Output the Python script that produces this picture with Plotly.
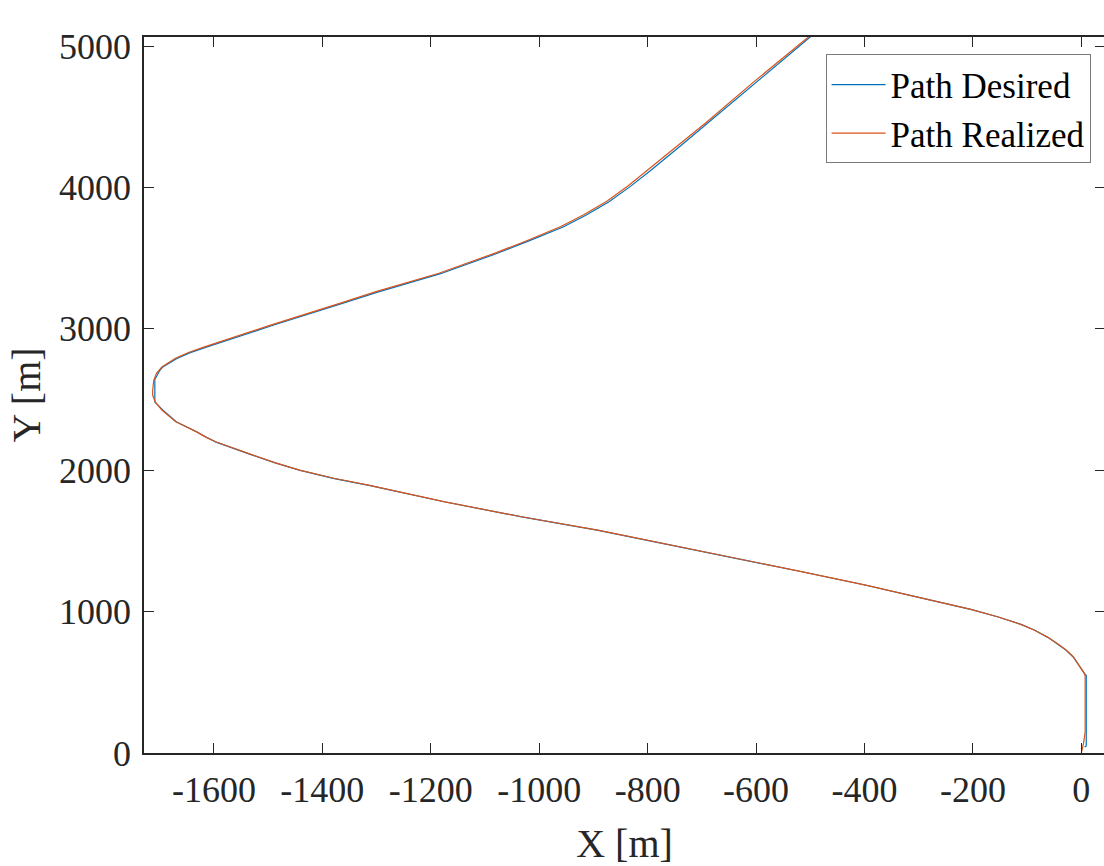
import plotly.graph_objects as go

# Desired path (blue)
desired_x = [6, 9, 9, 9, 6, 0, -15, -28, -43, -61, -86, -110, -153, -202, -276, -399, -522, -644,
             -767, -891, -1032, -1173, -1314, -1378, -1441, -1487, -1533, -1553, -1596, -1613, -1631,
             -1669, -1694, -1709, -1709, -1700, -1695, -1669, -1645, -1614, -1553, -1491, -1369, -1298,
             -1182, -1076, -1019, -956, -914, -872, -833, -794, -738, -689, -604, -502, -489]
desired_y = [42, 50, 300, 550, 561, 597, 679, 726, 769, 816, 868, 908, 962, 1014, 1080, 1188, 1287, 1382,
             1481, 1575, 1670, 1775, 1893, 1941, 1999, 2052, 2112, 2141, 2199, 2231, 2270,
             2341, 2424, 2482, 2641, 2705, 2728, 2789, 2830, 2871, 2948, 3025, 3173, 3260,
             3390, 3536, 3622, 3720, 3803, 3897, 4004, 4121, 4298, 4455, 4734, 5059, 5100]

# Realized path (orange)
realized_x = [0, 4, 7, 7, 7, 5, -1, -15, -28, -43, -62, -87, -112, -155, -204, -277, -400, -523, -645,
              -768, -892, -1033, -1174, -1315, -1379, -1442, -1488, -1533, -1554, -1597, -1615, -1633,
              -1671, -1696, -1708, -1713, -1713, -1711, -1706, -1696, -1671, -1647, -1616, -1555, -1494,
              -1371, -1301, -1185, -1079, -1022, -960, -918, -876, -837, -799, -742, -692, -607, -505, -492]
realized_y = [0, 68, 150, 400, 545, 565, 600, 681, 728, 771, 818, 870, 910, 964, 1016, 1081, 1189, 1288, 1383,
              1482, 1576, 1671, 1776, 1894, 1943, 2001, 2054, 2114, 2143, 2201, 2234, 2273,
              2344, 2426, 2482, 2530, 2565, 2636, 2685, 2730, 2792, 2833, 2874, 2951, 3028,
              3176, 3263, 3393, 3539, 3625, 3724, 3807, 3901, 4008, 4126, 4302, 4459, 4738, 5063, 5100]

x_ticks = [-1600, -1400, -1200, -1000, -800, -600, -400, -200, 0]
x_tick_text = ["-1600", "-1400", "-1200", "-1000", "-800", "-600", "-400", "-200", "0"]
y_ticks = [0, 1000, 2000, 3000, 4000, 5000]
y_tick_text = ["0", "1000", "2000", "3000", "4000", "5000"]

FONT = "Liberation Serif"
AX = "#262626"

fig = go.Figure()
fig.add_trace(go.Scatter(x=desired_x, y=desired_y, mode="lines", name="Path Desired",
                         line=dict(color="#0072BD", width=1.2)))
fig.add_trace(go.Scatter(x=realized_x, y=realized_y, mode="lines", name="Path Realized",
                         line=dict(color="#D95319", width=1.2)))

fig.update_layout(
    width=1107, height=866,
    paper_bgcolor="white", plot_bgcolor="white",
    margin=dict(l=144, r=0, t=37, b=113, pad=0),
    font=dict(family=FONT, size=36, color=AX),
    showlegend=True,
    legend=dict(x=0.985, y=0.9758, xanchor="right", yanchor="top",
                bgcolor="white", bordercolor="#7a7a7a", borderwidth=1, itemwidth=54,
                font=dict(family=FONT, size=35, color="black")),
)
fig.update_xaxes(range=[-1729, 43.6], tickvals=x_ticks, ticktext=x_tick_text, ticks="inside", ticklen=10,
                 tickcolor=AX, tickwidth=1, showline=True, linecolor=AX, linewidth=1.6,
                 mirror="ticks", showgrid=False, zeroline=False,
                 tickfont=dict(family=FONT, size=36, color=AX),
                 ticklabelstandoff=4,
                 title=dict(text="X [m]", font=dict(family=FONT, size=40, color=AX), standoff=20))
fig.update_yaxes(range=[0, 5064], tickvals=y_ticks, ticktext=y_tick_text, ticks="inside", ticklen=10,
                 tickcolor=AX, tickwidth=1, showline=True, linecolor=AX, linewidth=1.6,
                 mirror="ticks", showgrid=False, zeroline=False,
                 tickfont=dict(family=FONT, size=36, color=AX),
                 ticklabelstandoff=4,
                 title=dict(text="Y [m]", font=dict(family=FONT, size=40, color=AX), standoff=6))

fig.write_html("out.html", config={"displayModeBar": False},
               post_script="document.body.style.margin='0';document.body.style.overflow='hidden';")
